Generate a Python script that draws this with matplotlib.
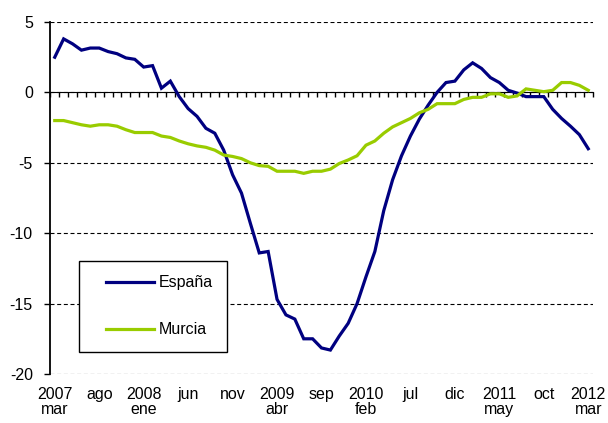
import matplotlib
matplotlib.use("Agg")
import matplotlib.pyplot as plt
from matplotlib.legend_handler import HandlerLine2D
import numpy as np

plt.rcParams['font.family'] = ['Liberation Sans', 'DejaVu Sans']
plt.rcParams['axes.unicode_minus'] = False

tick_labels = ["2007\nmar", "ago", "2008\nene", "jun", "nov", "2009\nabr", "sep",
               "2010\nfeb", "jul", "dic", "2011\nmay", "oct", "2012\nmar"]

espana = [2.5, 3.8, 3.45, 3.0, 3.15, 3.15, 2.9, 2.75, 2.45, 2.35,
          1.8, 1.9, 0.3, 0.8, -0.3, -1.15, -1.7, -2.55, -2.9, -4.1,
          -5.85, -7.15, -9.3, -11.4, -11.3, -14.7, -15.8, -16.1, -17.5, -17.5,
          -18.15, -18.3, -17.3, -16.4, -15.0, -13.1, -11.3, -8.4, -6.2, -4.5,
          -3.1, -1.9, -0.9, 0.0, 0.7, 0.8, 1.6, 2.1, 1.7, 1.05,
          0.7, 0.15, -0.05, -0.3, -0.3, -0.3, -1.2, -1.85, -2.4, -3.0,
          -4.0]

murcia = [-2.0, -2.0, -2.15, -2.3, -2.4, -2.3, -2.3, -2.4, -2.65, -2.85,
          -2.85, -2.85, -3.1, -3.2, -3.45, -3.65, -3.8, -3.9, -4.1, -4.45,
          -4.55, -4.7, -5.0, -5.2, -5.25, -5.6, -5.6, -5.6, -5.75, -5.6,
          -5.6, -5.45, -5.05, -4.8, -4.5, -3.75, -3.45, -2.9, -2.45, -2.15,
          -1.85, -1.45, -1.2, -0.8, -0.8, -0.8, -0.5, -0.35, -0.35, -0.1,
          -0.1, -0.35, -0.25, 0.25, 0.15, 0.05, 0.15, 0.7, 0.7, 0.5,
          0.15]

n = len(espana)
x = np.arange(n)

fig = plt.figure(figsize=(6.08, 4.23), dpi=100)
ax = fig.add_axes([50.3 / 608, 1 - 374 / 423, 542.4 / 608, 352 / 423])

ax.set_xlim(-0.5, n - 0.5)
ax.set_ylim(-20, 5)

ax.set_yticks([5, 0, -5, -10, -15, -20])
ax.yaxis.grid(True, color='black', linewidth=0.8, linestyle=(0, (3.6, 2.4)))
ax.set_axisbelow(True)

for s in ['top', 'right', 'bottom']:
    ax.spines[s].set_visible(False)
ax.spines['left'].set_linewidth(1.3)

ax.tick_params(axis='y', length=4, width=1.0, pad=8.6, labelsize=11.5, direction='out')
ax.set_xticks(x[::5])
ax.set_xticklabels(tick_labels)
ax.tick_params(axis='x', length=0, pad=9, labelsize=11.5)
for lab in ax.get_xticklabels():
    lab.set_linespacing(1.0)

# zero axis with monthly boundary ticks
zero_frac = (0 - (-20)) / 25
sec = ax.secondary_xaxis(zero_frac)
sec.set_xticks(np.arange(n + 1) - 0.5)
sec.tick_params(axis='x', length=3.5, width=1.0, direction='out', labelbottom=False,
                labeltop=False, bottom=True, top=False)
sec.spines['bottom'].set_linewidth(1.6)
sec.set_zorder(1)

l1, = ax.plot(x, espana, color='#000080', linewidth=2.3, label='España', zorder=3,
              solid_joinstyle='miter')
l2, = ax.plot(x, murcia, color='#99CC00', linewidth=2.3, label='Murcia', zorder=3,
              solid_joinstyle='miter')

leg = ax.legend(handles=[l1, l2], loc='upper left', bbox_to_anchor=(0.0535, 0.321),
                borderaxespad=0, fontsize=11.5, frameon=True, fancybox=False,
                framealpha=1, edgecolor='black', handlelength=3.75, handletextpad=0.3,
                labelspacing=2.0, borderpad=0.9,
                handler_map={l1: HandlerLine2D(xpad=0.75), l2: HandlerLine2D(xpad=0.75)})
leg.get_frame().set_linewidth(1.0)
leg.set_zorder(5)

fig.savefig("out.png", dpi=100)
